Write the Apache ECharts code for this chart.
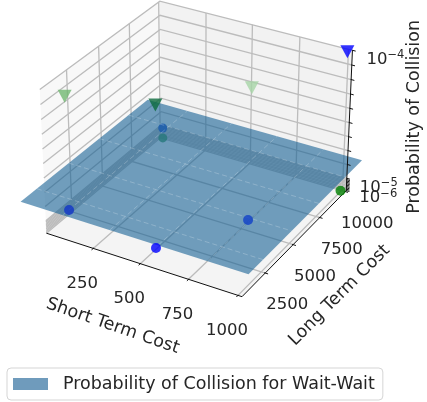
<!DOCTYPE html>
<html><head><meta charset="utf-8">
<style>html,body{margin:0;padding:0;background:#fff}#c{width:427px;height:402px;filter:blur(0.5px)}</style>
<script src="https://cdn.jsdelivr.net/npm/echarts@6/dist/echarts.min.js"></script>
</head><body><div id="c"></div>
<script>
// ---- axis limits and ticks
const shortLim = [-5, 1020];
const longLim = [500, 10100];
const probLim = [1e-6, 1e-4];
const shortTicks = [250, 500, 750, 1000];
const longTicks = [2500, 5000, 7500, 10000];
const probGrid = [1e-6,2e-6,3e-6,4e-6,5e-6,6e-6,7e-6,8e-6,9e-6,1e-5,2e-5,3e-5,4e-5,5e-5,6e-5,7e-5,8e-5,9e-5,1e-4];
const shortLabels = ['250','500','750','1000'];
const longLabels = ['2500','5000','7500','10000'];
const probLabelVals = [1e-4, 1e-5, 1e-6];
const probLabels = ['\u22124', '\u22125', '\u22126'];
// ---- surface
const surfShort = [-104, 1078];
const surfLong = [20, 10436];
const surfProb = 2.3e-5;
const surfMeshShort = [125, 375, 625, 875];
const surfMeshLong = [1250, 3750, 6250, 8750];
// ---- scatter points  [short, long, prob]
const blueCircles = [[37,1710,1e-5],[549,1025,1e-5],[793,4870,1e-5]];
const blueCircleBack = [[10,10000,9e-6]];
const greenCircles = [[1000,9900,1.5e-6]];
const greenCircleBack = [[10,10000,1.5e-6]];
const blueTriangles = [[1000,10000,9.9e-5]];
const greenTriangles = [[37,1710,8.9e-5],[508,1750,1e-4],[795,5000,1e-4]];
const seriesName = 'Probability of Collision for Wait-Wait';

// ---- matplotlib style 3D view (elev 30, azim -60, dist 10) giving projected plane coordinates
const BX = 1.143, BZ = 0.836, DIST = 10;
function proj(s, l, p) {
  const X = ((s - shortLim[0]) / (shortLim[1] - shortLim[0]) - .5) * BX;
  const Y = ((l - longLim[0]) / (longLim[1] - longLim[0]) - .5) * BX;
  const Z = ((p - probLim[0]) / (probLim[1] - probLim[0]) - .5) * BZ;
  const xv = .866 * X + .5 * Y;
  const yv = -.25 * X + .433 * Y + .866 * Z;
  const d = .433 * X - .75 * Y + .5 * Z;
  return [xv / (DIST - d), yv / (DIST - d)];
}
const [s0, s1] = shortLim, [l0, l1] = longLim, [p0, p1] = probLim;
const TXT = '#262626', FONT = '"DejaVu Sans"';

const panes = [
  {c:'#f8f8f8', pts:[[s0,l0,p0],[s0,l1,p0],[s0,l1,p1],[s0,l0,p1]]},
  {c:'#f2f2f2', pts:[[s0,l1,p0],[s1,l1,p0],[s1,l1,p1],[s0,l1,p1]]},
  {c:'#f4f4f4', pts:[[s0,l0,p0],[s1,l0,p0],[s1,l1,p0],[s0,l1,p0]]}
];
const gridSegs = [];
shortTicks.forEach(s => { gridSegs.push([[s,l0,p0],[s,l1,p0],[s,l1,p1]]); });
longTicks.forEach(l => { gridSegs.push([[s1,l,p0],[s0,l,p0],[s0,l,p1]]); });
probGrid.forEach(p => { gridSegs.push([[s0,l0,p],[s0,l1,p],[s1,l1,p]]); });

const axisSegs = [
  [[s0,l0,p0],[s1,l0,p0],[s1,l1,p0],[s1,l1,p1]]
];
const dL = (l1-l0), dS = (s1-s0);
shortTicks.forEach(s => axisSegs.push([[s,l0+.005*dL,p0],[s,l0-.014*dL,p0]]));
longTicks.forEach(l => axisSegs.push([[s1-.005*dS,l,p0],[s1+.014*dS,l,p0]]));
probGrid.forEach(p => axisSegs.push([[s1-.002*dS,l1,p],[s1+.016*dS,l1,p]]));

const meshSegs = [];
surfMeshShort.forEach(s => meshSegs.push([[s,surfLong[0],surfProb],[s,surfLong[1],surfProb]]));
surfMeshLong.forEach(l => meshSegs.push([[surfShort[0],l,surfProb],[surfShort[1],l,surfProb]]));

function polySeries(items, z, name) {
  return {type:'custom', name, coordinateSystem:'cartesian2d', z, silent:true, clip:false,
    itemStyle: name ? {color:'#6f9bbc'} : undefined,
    data: items.map((_, i) => [i]), encode:{x:0,y:0},
    renderItem(params, api) {
      const it = items[params.dataIndex];
      return {type:'polygon', shape:{points: it.pts.map(q => api.coord(proj(q[0],q[1],q[2])))},
        style:{fill: it.c, stroke:'none'}};
    }};
}
function lineSeries(segs, z, style) {
  return {type:'custom', coordinateSystem:'cartesian2d', z, silent:true, clip:false,
    data: segs.map((_, i) => [i]), encode:{x:0,y:0},
    renderItem(params, api) {
      return {type:'polyline', shape:{points: segs[params.dataIndex].map(q => api.coord(proj(q[0],q[1],q[2])))},
        style:Object.assign({fill:'none'}, style)};
    }};
}
function pts(series, z, symbol, size, colors, rot) {
  return {type:'scatter', z, silent:true, clip:false, symbol, symbolSize:size, symbolRotate:rot||0,
    data: series.map((q,i) => ({value: proj(q[0],q[1],q[2]), itemStyle:{color: colors[i]}}))};
}
// text labels
const texts = [];
shortTicks.forEach((s,i) => texts.push({at:[s,l0,p0], dx:-11, dy:35, text:shortLabels[i]}));
longTicks.forEach((l,i) => texts.push({at:[s1,l,p0], dx:22, dy:32, text:longLabels[i]}));
const probOffsets = [[14,9],[13,9],[13,7]];
probLabelVals.forEach((p,i) => texts.push({at:[s1,l1,p], dx:probOffsets[i][0], dy:probOffsets[i][1], sup:probLabels[i]}));
const titleTexts = [
  {at:[(s0+s1)/2,l0,p0], dx:-29, dy:62, text:'Short Term Cost', rot:-19, fs:17.5},
  {at:[s1,(l0+l1)/2,p0], dx:43, dy:54, text:'Long Term Cost', rot:45, fs:17.5},
  {at:[s1,l1,(p0+p1)/2], dx:65, dy:-5, text:'Probability of Collision', rot:90, fs:17.5}
];
function textSeries(list) {
  return {type:'custom', coordinateSystem:'cartesian2d', z:9, silent:true, clip:false,
    data:list.map((_,i)=>[i]), encode:{x:0,y:0},
    renderItem(params, api) {
      const t = list[params.dataIndex];
      const c = api.coord(proj(t.at[0],t.at[1],t.at[2]));
      const el = {type:'text', x:c[0]+t.dx, y:c[1]+t.dy, rotation:(t.rot||0)*Math.PI/180,
        style:{fill:TXT, fontFamily:FONT, fontSize:t.fs||16.5, align:'center', verticalAlign:'middle'}};
      if (t.sup) {
        el.style.align='left';
        el.style.text='{b|10}{s|'+t.sup+'}';
        el.style.rich={b:{fontFamily:FONT,fontSize:16.5,fill:TXT,color:TXT},
          s:{fontFamily:FONT,fontSize:11.5,fill:TXT,color:TXT,verticalAlign:'top',lineHeight:20}};
      } else el.style.text=t.text;
      return el;
    }};
}
const A = 1960, CX = 199, CY = 142, W = 427, H = 402;
const chart = echarts.init(document.getElementById('c'), null, {renderer:'canvas', width:W, height:H});
chart.setOption({
  animation:false, backgroundColor:'#fff',
  grid:{left:0, top:0, width:W, height:H, containLabel:false},
  xAxis:{type:'value', show:false, min:(0-CX)/A, max:(W-CX)/A},
  yAxis:{type:'value', show:false, min:(CY-H)/A, max:CY/A},
  legend:{data:[{name:seriesName, icon:'rect', itemStyle:{color:'#6f9bbc'}}], left:7, top:368, orient:'horizontal',
    itemWidth:35, itemHeight:12, padding:[7,8,7,6], borderColor:'#d5d5d5', borderWidth:1, borderRadius:4,
    backgroundColor:'#fff', selectedMode:false,
    textStyle:{fontFamily:FONT, fontSize:17.5, color:TXT, padding:[0,0,0,10]}},
  series:[
    polySeries(panes, 1),
    lineSeries(gridSegs, 2, {stroke:'#bcbcbc', lineWidth:1.3}),
    pts(greenCircleBack, 3, 'circle', 9, ['#3f9a55']),
    pts(blueCircleBack, 3, 'circle', 9, ['#1a4fd0']),
    polySeries([{c:'rgba(22,96,149,.6)', pts:[[surfShort[0],surfLong[0],surfProb],[surfShort[1],surfLong[0],surfProb],[surfShort[1],surfLong[1],surfProb],[surfShort[0],surfLong[1],surfProb]]}], 4, seriesName),
    lineSeries(meshSegs, 5, {stroke:'rgba(255,255,255,.28)', lineWidth:.8, lineDash:[5,3]}),
    lineSeries(axisSegs, 6, {stroke:'#111', lineWidth:1}),
    pts(blueCircles, 7, 'circle', 10, ['#1034c8','#0000ff','#1040c8']),
    pts(greenCircles, 7, 'circle', 10, ['#008000']),
    pts(blueTriangles, 7, 'triangle', [14,13], ['#0000ff'], 180),
    pts(greenTriangles, 7, 'triangle', [14,13], ['#72b872','#0b6a3c','#a6d4a6'], 180),
    textSeries(texts.concat(titleTexts))
  ]
});
</script></body></html>
